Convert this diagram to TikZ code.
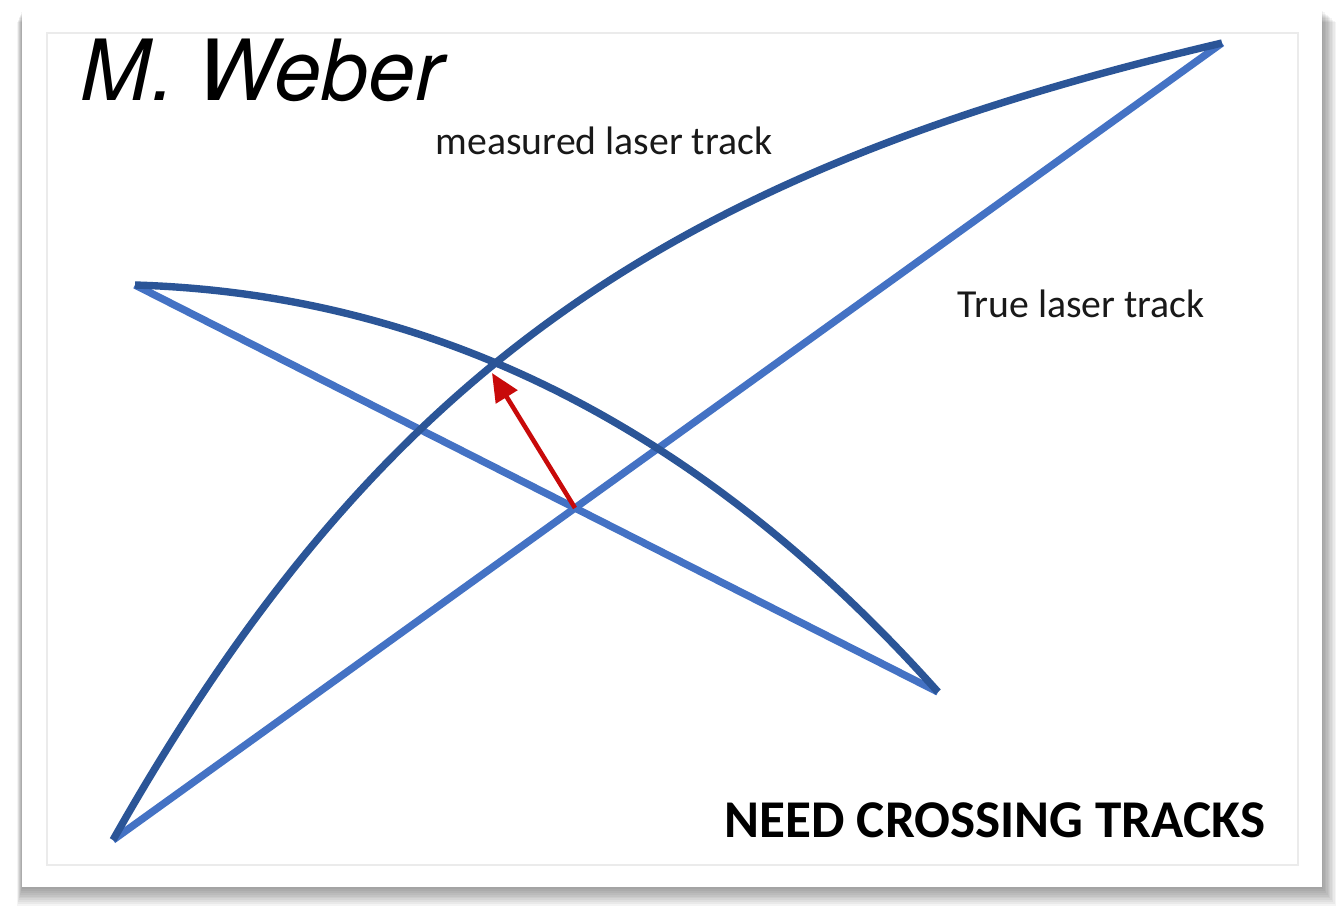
\documentclass[tikz,border=0pt]{standalone}
\usepackage{fontspec}
\setsansfont{Carlito}
\newfontfamily\heros{TeX Gyre Heros}
\usetikzlibrary{arrows.meta}
\definecolor{measblue}{RGB}{43,85,151}
\definecolor{trueblue}{RGB}{68,114,196}
\definecolor{shiftred}{RGB}{200,10,10}

\begin{document}
\begin{tikzpicture}[x=0.01cm,y=-0.01cm,
    measured/.style={measblue,line width=2.1pt},
    truetrack/.style={trueblue,line width=2.1pt},
    tracklabel/.style={font=\sffamily\fontsize{11.3}{13}\selectfont,text=black!90,inner sep=0pt,anchor=base west}]
	\useasboundingbox (0,0) rectangle (1339,908);
	% card with its shadow
	\foreach \i in {1,...,10}
		\fill[black,opacity=0.045] (22-0.5*\i,10+1.2*\i) rectangle (1322+1.4*\i,887+1.9*\i);
	\fill[white] (22,10) rectangle (1322,887);
	\draw[black!8,line width=0.4pt] (47,33) rectangle (1298,865);
	% ends of the tracks
	\coordinate (lo) at (113,840);
	\coordinate (hi) at (1222,43);
	\coordinate (left) at (135,285);
	\coordinate (right) at (938,692);
	% true tracks
	\draw[truetrack] (lo) -- (hi);
	\draw[truetrack] (left) -- (right);
	% measured tracks
	\draw[measured] (lo) .. controls (380,368) and (672,172) .. (hi);
	\draw[measured] (left) .. controls (438,294) and (705,431) .. (right);
	% shift of the crossing point
	\coordinate (cross) at (intersection of lo--hi and left--right);
	\coordinate (meet) at (492,373);
	\draw[shiftred,line width=1.3pt,-{Triangle[length=8pt,width=7pt]}] (cross) -- (meet);
	% texts
	\node[tracklabel] (meas) at (435,154) {measured laser track};
	\node[tracklabel] (true) at (957,317) {True laser track};
	\node[font=\sffamily\bfseries\fontsize{15.1}{18}\selectfont,inner sep=0pt,anchor=base west] (need) at (724,837) {NEED CROSSING TRACKS};
	\node[font=\heros\itshape\fontsize{24}{28}\selectfont,inner sep=0pt,anchor=base west] (author) at (80,100) {M. Weber};
\end{tikzpicture}
\end{document}
